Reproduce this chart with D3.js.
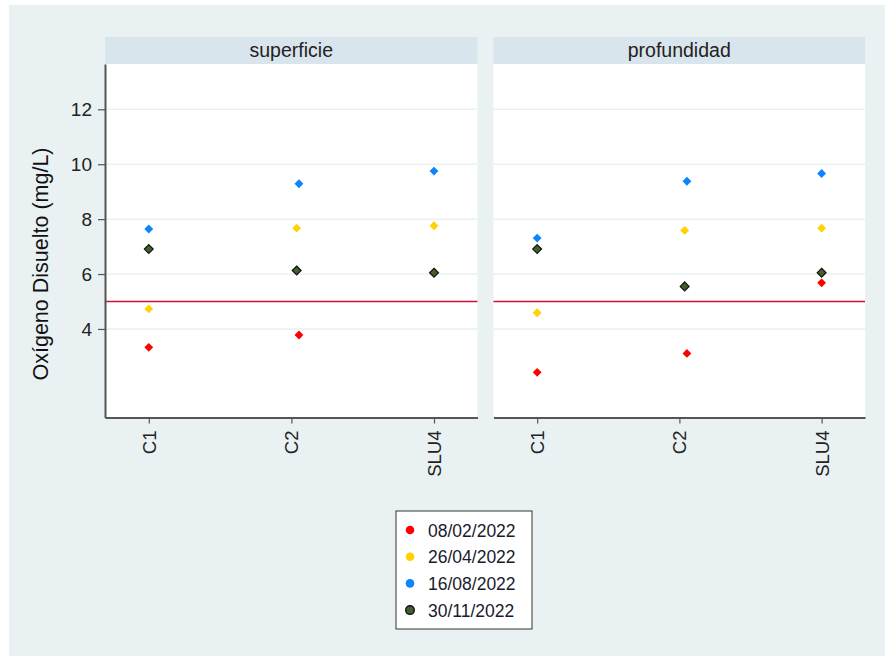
<!DOCTYPE html>
<html><head><meta charset="utf-8">
<script src="https://cdn.jsdelivr.net/npm/d3@7"></script>
<style>body{margin:0;background:#fff;}svg{display:block;font-family:"Liberation Sans",Arial,sans-serif;}</style>
</head><body><svg id="c" width="885" height="656"></svg>
<script>
const panels = ["superficie", "profundidad"];
const sites = ["C1", "C2", "SLU4"];
const dates = ["08/02/2022", "26/04/2022", "16/08/2022", "30/11/2022"];
const colors = ["#ff0000", "#ffd200", "#0a84ff", "#43602b"];
// x offsets (category units) per date for each site (slight horizontal shift in C2)
const xShift = [[0, 0.053, 0], [0, 0.037, 0], [0, 0.053, 0], [0, 0.037, 0]];
// values [date][site]
const superficie = [
  [3.33, 3.78, null],
  [4.73, 7.67, 7.76],
  [7.64, 9.29, 9.75],
  [6.91, 6.13, 6.05]
];
const profundidad = [
  [2.42, 3.11, 5.68],
  [4.59, 7.59, 7.67],
  [7.31, 9.38, 9.66],
  [6.91, 5.55, 6.05]
];
const yTicks = [4, 6, 8, 10, 12];
const refLine = 5;
const yTitle = "Oxígeno Disuelto (mg/L)";

const svg = d3.select("#c");
svg.append("rect").attr("x", 9).attr("y", 5).attr("width", 876).attr("height", 651).attr("fill", "#e9f1f3");

const panelX = [[105, 477.5], [493.5, 865]];
const plotTop = 64, plotBottom = 417.5;
const y = d3.scaleLinear().domain([0.775, 13.65]).range([plotBottom, plotTop]);
const data = [superficie, profundidad];
const FF = "Liberation Sans, Arial, sans-serif";

panels.forEach((p, pi) => {
  const [x0, x1] = panelX[pi];
  const x = d3.scaleLinear().domain([0.693, 3.305]).range([x0, x1]);
  const g = svg.append("g");
  g.append("rect").attr("x", x0).attr("y", 37).attr("width", x1 - x0).attr("height", 27).attr("fill", "#d9e5ec");
  g.append("text").attr("x", (x0 + x1) / 2).attr("y", 57).attr("text-anchor", "middle")
    .attr("font-size", 19.5).attr("fill", "#222").text(p);
  g.append("rect").attr("x", x0).attr("y", plotTop).attr("width", x1 - x0).attr("height", plotBottom - plotTop).attr("fill", "#fff");
  g.selectAll(".grid").data(yTicks).join("line")
    .attr("x1", x0).attr("x2", x1).attr("y1", d => y(d)).attr("y2", d => y(d))
    .attr("stroke", "#e9f1f3").attr("stroke-width", 1.5);
  g.append("line").attr("x1", x0).attr("x2", x1).attr("y1", y(refLine)).attr("y2", y(refLine))
    .attr("stroke", "#d0103a").attr("stroke-width", 1.3);
  const xa = g.append("g").attr("transform", `translate(0,${plotBottom})`)
    .call(d3.axisBottom(x).tickValues([1, 2, 3]).tickFormat((d, i) => sites[i]).tickSize(6).tickSizeOuter(0));
  xa.select(".domain").attr("stroke", "#555").attr("stroke-width", 2);
  xa.selectAll(".tick line").attr("stroke", "#555").attr("stroke-width", 1.2);
  xa.selectAll(".tick text").attr("font-size", 18.5).attr("fill", "#222").attr("font-family", FF)
    .attr("transform", "rotate(-90)").attr("text-anchor", "end").attr("x", -13).attr("y", 0).attr("dy", "0.35em");
  if (pi === 0) {
    const ya = g.append("g").attr("transform", `translate(${x0},0)`)
      .call(d3.axisLeft(y).tickValues(yTicks).tickSize(7).tickSizeOuter(0));
    ya.select(".domain").attr("stroke", "#555").attr("stroke-width", 2);
    ya.selectAll(".tick line").attr("stroke", "#555").attr("stroke-width", 1.2);
    ya.selectAll(".tick text").attr("font-size", 19).attr("fill", "#222").attr("font-family", FF).attr("x", -13);
  }
  const pts = [];
  data[pi].forEach((row, di) => row.forEach((v, si) => {
    if (v !== null) pts.push({ di, si, v });
  }));
  const sym = d3.symbol().type(d3.symbolDiamond2).size(50);
  g.selectAll(".pt").data(pts).join("path")
    .attr("d", sym)
    .attr("transform", d => `translate(${x(d.si + 1 + xShift[d.di][d.si])},${y(d.v)})`)
    .attr("fill", d => colors[d.di])
    .attr("stroke", d => d.di === 3 ? "#111" : "none").attr("stroke-width", 1.2);
});

svg.append("text").attr("transform", "translate(48,264) rotate(-90)").attr("text-anchor", "middle")
  .attr("font-size", 21.5).attr("fill", "#111").text(yTitle);

const lg = svg.append("g");
lg.append("rect").attr("x", 396).attr("y", 511).attr("width", 136).attr("height", 118)
  .attr("fill", "#fff").attr("stroke", "#333").attr("stroke-width", 1);
dates.forEach((d, i) => {
  const cy = 530 + i * 26.7;
  lg.append("circle").attr("cx", 410).attr("cy", cy).attr("r", 4.3).attr("fill", colors[i])
    .attr("stroke", i === 3 ? "#111" : "none").attr("stroke-width", 1.4);
  lg.append("text").attr("x", 428).attr("y", cy + 6.5).attr("font-size", 17.5).attr("fill", "#1a1a2e").text(d);
});
</script></body></html>
